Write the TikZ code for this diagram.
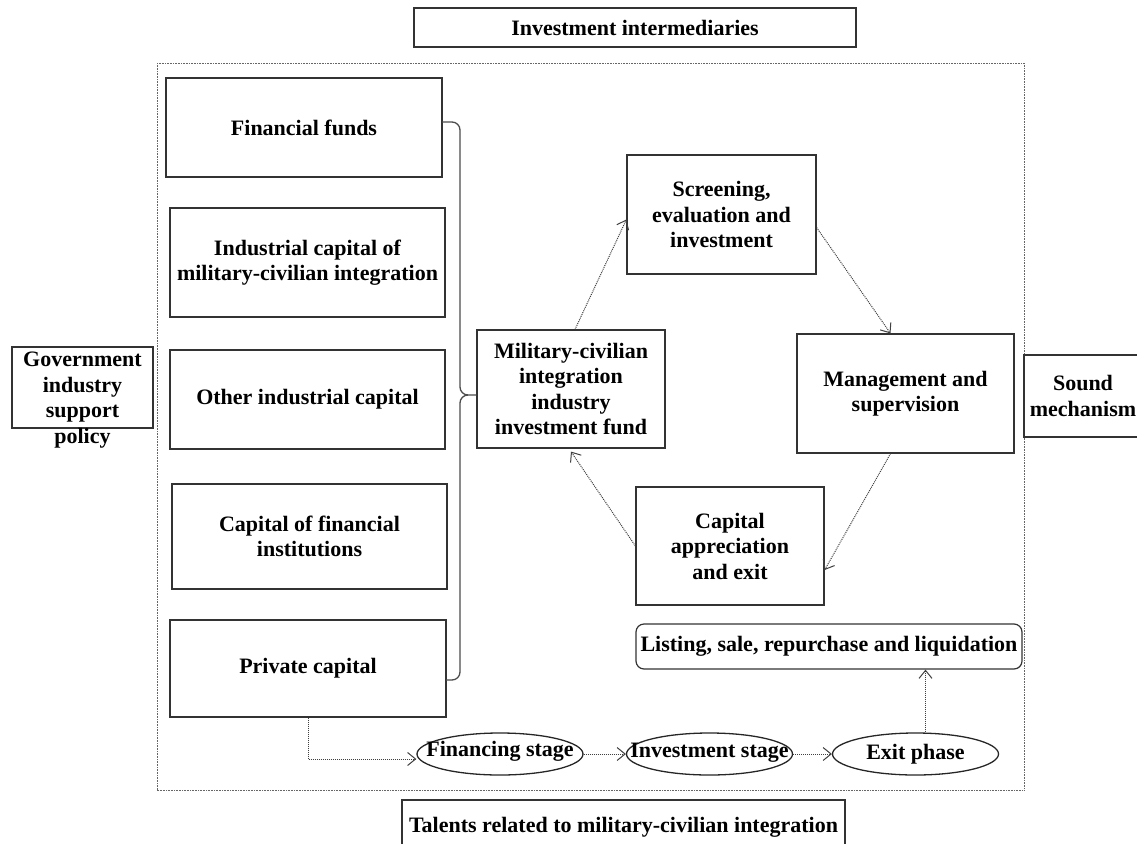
\documentclass[tikz,border=0pt]{standalone}
\usepackage{fontspec}
\setmainfont{Liberation Serif}
\usetikzlibrary{arrows.meta,shapes.geometric,calc}
\begin{document}
\begin{tikzpicture}[x=1pt,y=-1pt,
  every node/.style={font=\fontsize{22}{25.5}\selectfont\bfseries, text=black},
  box/.style={draw=black!80, line width=1.2pt, rectangle, inner sep=0pt, align=center},
  oval/.style={draw=black!85, line width=1.3pt, ellipse, inner sep=0pt, minimum width=166pt, minimum height=42pt},
  flow/.style={draw=black!75, line width=1pt, dash pattern=on 1pt off 1pt, -{Straight Barb[length=8pt,width=13pt,line width=1pt]}},
  bracket/.style={draw=black!70, line width=1.3pt},
  frame/.style={draw=black!60, line width=0.9pt, dash pattern=on 0.8pt off 0.8pt}]
\useasboundingbox (0,0) rectangle (1137,843);

% outer dotted frame
\draw[frame] (157,63) rectangle (1024,790);

% top / bottom / side boxes
\node[box, minimum width=442pt, minimum height=39pt] (top) at (635,27.5) {Investment intermediaries};
\node[box, minimum width=443pt, minimum height=58pt, label={[yshift=2pt]center:Talents related to military-civilian integration}] (tal) at (623.5,829) {};
\node[box, minimum width=141pt, minimum height=81pt] (gov) at (82.5,387.5) {};
\node[align=center] (govt) at (82.5,400) {Government\\industry\\support\\policy};
\node[box, minimum width=118pt, minimum height=82pt] (snd) at (1083,396) {Sound\\mechanism};

% left column
\node[box, minimum width=276pt, minimum height=99pt] (ff) at (304,127.5) {Financial funds};
\node[box, minimum width=275pt, minimum height=109pt] (ic) at (307.5,262.5) {Industrial capital of\\military-civilian integration};
\node[box, minimum width=275pt, minimum height=99pt] (oic) at (307.5,399.5) {Other industrial capital};
\node[box, minimum width=275pt, minimum height=105pt] (cfi) at (309.5,536.5) {Capital of financial\\institutions};
\node[box, minimum width=276pt, minimum height=97pt] (pc) at (308,668.5) {Private capital};

% cycle
\node[box, minimum width=188pt, minimum height=118pt] (fund) at (571,389) {Military-civilian\\integration\\industry\\investment fund};
\node[box, minimum width=189pt, minimum height=119pt] (scr) at (721.5,214.5) {Screening,\\evaluation and\\investment};
\node[box, minimum width=217pt, minimum height=119pt] (mgmt) at (905.5,393.5) {Management and\\supervision};
\node[box, minimum width=188pt, minimum height=118pt] (cap) at (730,546) {Capital\\appreciation\\and exit};
\node[box, rounded corners=8pt, minimum width=386pt, minimum height=45pt] (list) at (829,646.5) {Listing, sale, repurchase and liquidation};

% stages
\node[oval, label={[yshift=3pt]center:Financing stage}] (fin) at (500,754) {};
\node[oval, label={[yshift=1pt]center:Investment stage}] (inv) at (709.5,754) {};
\node[oval, label={center:Exit phase}] (exit) at (915.5,754) {};

% bracket
\coordinate (bt) at (442,122);
\coordinate (bm) at (460,395);
\coordinate (bb) at (446,680);
\draw[bracket] (bt) -- (452,122) to[out=0,in=90] (460,130) -- (460,387)
  to[out=-90,in=180] (468,395) -- (fund.west |- bm);
\draw[bracket] (468,395) to[out=180,in=90] (460,403) -- (460,672)
  to[out=-90,in=0] (452,680) -- (bb);

% flows
\draw[flow] (pc.south) |- ([yshift=-5pt]fin.west);
\draw[flow] (fin.east) -- (inv.west);
\draw[flow] (inv.east) -- (exit.west);
\draw[flow] ([xshift=10pt]exit.north) -- ([xshift=10pt]exit.north |- list.south);
\draw[flow] ([xshift=4pt]fund.north) -- ([yshift=-5pt]scr.west);
\draw[flow] ([yshift=-13pt]scr.east) -- ([xshift=-15pt]mgmt.north);
\draw[flow] ([xshift=-15pt]mgmt.south) -- ([yshift=-24pt]cap.east);
\draw[flow] (cap.west) -- ([yshift=-3pt]fund.south);
\end{tikzpicture}
\end{document}
